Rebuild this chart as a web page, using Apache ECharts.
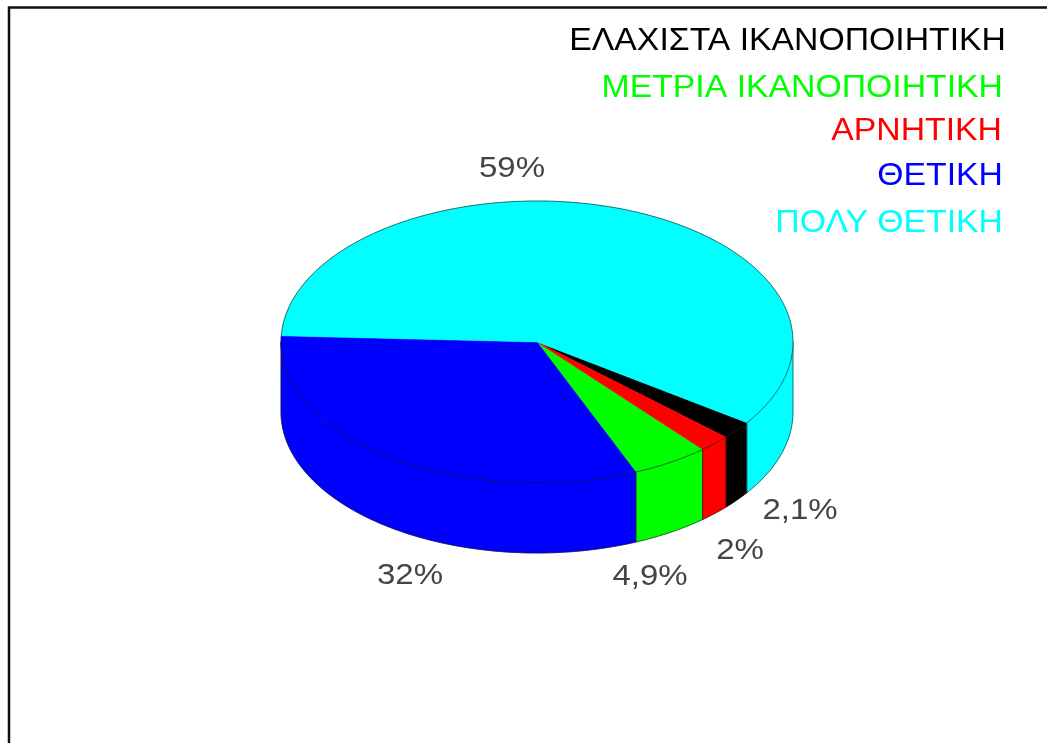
<!DOCTYPE html>
<html>
<head>
<meta charset="utf-8">
<style>html,body{margin:0;padding:0;background:#fff}#c{width:1047px;height:743px}</style>
<script src="https://cdn.jsdelivr.net/npm/echarts@6/dist/echarts.min.js"></script>
</head>
<body>
<div id="c"></div>
<script>
// Data, in legend order
const categories = ['ΕΛΑΧΙΣΤΑ ΙΚΑΝΟΠΟΙΗΤΙΚΗ', 'ΜΕΤΡΙΑ ΙΚΑΝΟΠΟΙΗΤΙΚΗ', 'ΑΡΝΗΤΙΚΗ', 'ΘΕΤΙΚΗ', 'ΠΟΛΥ ΘΕΤΙΚΗ'];
const values = [2.1, 4.9, 2, 32, 59];
const colors = ['#000000', '#00ff00', '#ff0000', '#0000ff', '#00ffff'];
// Clockwise order of the slices around the pie
const sliceOrder = [4, 0, 2, 1, 3];

// Layout
const pie = { cx: 537, cy: 342, rx: 256, ry: 141, depth: 70, start: 272.5 };
const legendRight = [1006, 1003, 1002, 1003, 1003], legendY = [41, 88, 131, 176, 223], legendFont = 32, legendStretch = 1.055;
const labelCenters = [[800, 511], [650, 577], [740, 551], [410, 576], [512, 169]];
const labelStretch = 1.1;

const total = values.reduce((a, b) => a + b, 0);
const rim = (deg, dy) => {
  const t = deg * Math.PI / 180;
  return [pie.cx + pie.rx * Math.sin(t), pie.cy - pie.ry * Math.cos(t) + (dy || 0)];
};
const arcPoints = (a, b, dy) => {
  const out = [], n = Math.max(2, Math.ceil(Math.abs(b - a)));
  for (let i = 0; i <= n; i++) out.push(rim(a + (b - a) * i / n, dy));
  return out;
};
// Start angle of each slice, derived from the values
const sliceStart = {};
let acc = pie.start;
sliceOrder.forEach(i => { sliceStart[i] = acc; acc += values[i] / total * 360; });

function renderSlice(params, api) {
  const i = params.dataIndex;
  const val = api.value(0);
  const a = sliceStart[i], b = a + val / total * 360;
  const children = [];
  const color = colors[i];
  const edge = { stroke: '#111', lineWidth: 0.6, fill: null };
  // Front wall: only the part of the rim lying in 90..270 degrees (mod 360)
  [[90, 270], [450, 630]].forEach(([lo, hi]) => {
    const s = Math.max(a, lo), e = Math.min(b, hi);
    if (e > s) {
      const upper = arcPoints(s, e, 0), lower = arcPoints(s, e, pie.depth).reverse();
      children.push({ type: 'polygon', shape: { points: upper.concat(lower) },
        style: { fill: color, stroke: color, lineWidth: 0.5 } });
      children.push({ type: 'polyline', shape: { points: [rim(s, 0), rim(s, pie.depth)] }, style: edge });
      children.push({ type: 'polyline', shape: { points: [rim(e, 0), rim(e, pie.depth)] }, style: edge });
      children.push({ type: 'polyline', shape: { points: arcPoints(s, e, pie.depth) }, style: edge });
    }
  });
  // Top face
  const arc = arcPoints(a, b, 0);
  children.push({ type: 'polygon', shape: { points: [[pie.cx, pie.cy]].concat(arc) },
    style: { fill: color, stroke: color, lineWidth: 0.5 } });
  children.push({ type: 'polyline', shape: { points: arc }, style: edge });
  // Percentage label
  children.push({ type: 'text', x: labelCenters[i][0], y: labelCenters[i][1], scaleX: labelStretch, style: {
    text: String(val).replace('.', ',') + '%',
    align: 'center', verticalAlign: 'middle',
    font: '30px "Liberation Sans"', fill: '#444' } });
  return { type: 'group', children };
}

const chart = echarts.init(document.getElementById('c'), null, { renderer: 'canvas' });
chart.setOption({
  animation: false,
  backgroundColor: '#ffffff',
  graphic: { elements: [
    { type: 'polyline', shape: { points: [[9, 743], [9, 7.5], [1047, 7.5]] },
      style: { stroke: '#111', lineWidth: 2.5, fill: null }, silent: true }
  ].concat(categories.map((name, i) => ({
    type: 'text', silent: true, x: legendRight[i], y: legendY[i], scaleX: legendStretch,
    style: { text: name, align: 'right', verticalAlign: 'middle',
      font: legendFont + 'px "Liberation Sans"', fill: colors[i] }
  }))) },
  series: [{
    type: 'custom',
    coordinateSystem: 'none',
    silent: true,
    data: values.map(v => [v]),
    renderItem: renderSlice
  }]
});
</script>
</body>
</html>
